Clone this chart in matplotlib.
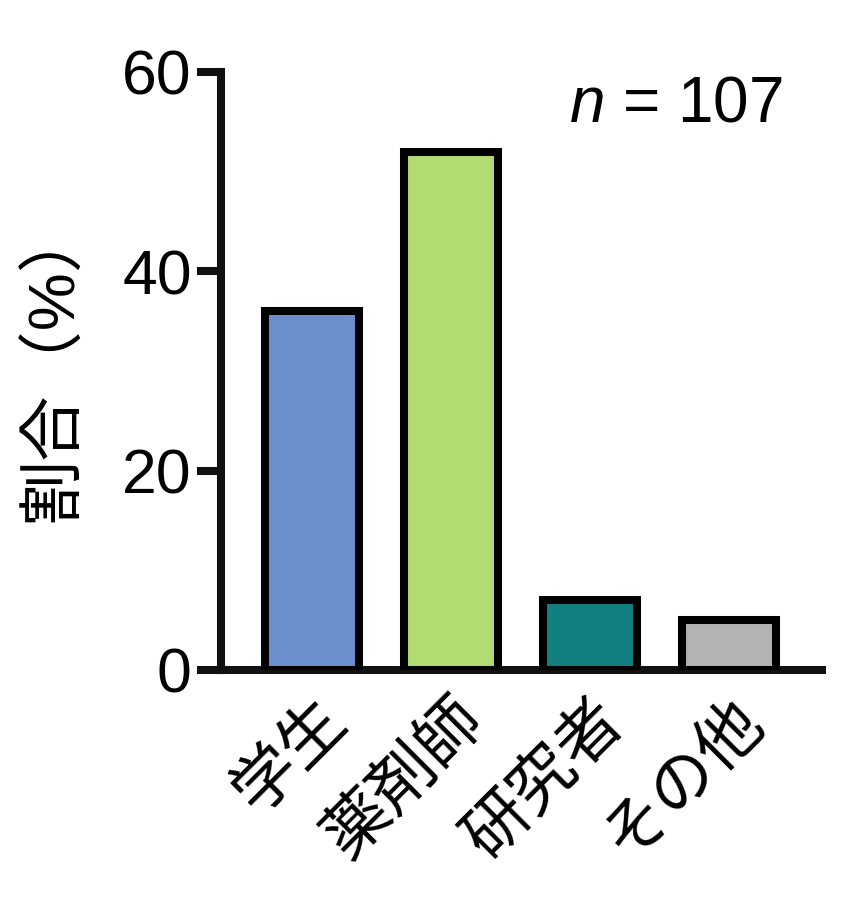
import matplotlib
matplotlib.use('Agg')
import matplotlib.pyplot as plt

categories = ['学生', '薬剤師', '研究者', 'その他']
values = [36, 52, 7, 5]
colors = ['#6A8FCC', '#B2DB72', '#128080', '#B3B3B3']
yticks = [0, 20, 40, 60]
n_total = 107

plt.rcParams['font.family'] = ['Liberation Sans', 'Noto Sans CJK JP', 'DejaVu Sans']
plt.rcParams['mathtext.fontset'] = 'custom'
plt.rcParams['mathtext.it'] = 'Liberation Sans:italic'
plt.rcParams['mathtext.rm'] = 'Liberation Sans'

fig = plt.figure(figsize=(8.51, 9.13), dpi=100)
ax = fig.add_axes([0.2597, 0.2662, 0.7062, 0.6550])

lw = 5.8
ax.bar(range(len(categories)), values, width=0.68, color=colors,
       edgecolor='black', linewidth=lw, zorder=3)

ax.set_xlim(-0.655, 3.67)
ax.set_ylim(0, 60)
ax.set_yticks(yticks)
ax.set_yticklabels([str(t) for t in yticks], fontsize=45)
ax.tick_params(axis='y', length=17, width=lw, pad=4, color='#111111')
ax.set_xticks(range(len(categories)))
ax.set_xticklabels(categories, fontsize=47, rotation=45, ha='right',
                   rotation_mode='anchor', family=['Noto Sans CJK JP'])
ax.tick_params(axis='x', length=0, pad=12)

for s in ['top', 'right']:
    ax.spines[s].set_visible(False)
for s in ['left', 'bottom']:
    ax.spines[s].set_linewidth(lw)
    ax.spines[s].set_color('#111111')

ax.text(0.935, 0.995, r'$n$ = ' + str(n_total), transform=ax.transAxes,
        ha='right', va='top', fontsize=46)

fig.text(54 / 851, 1 - 362 / 913, '割合（%）', rotation=90, ha='center',
         va='center', fontsize=47)

fig.savefig('out.png', dpi=100)
